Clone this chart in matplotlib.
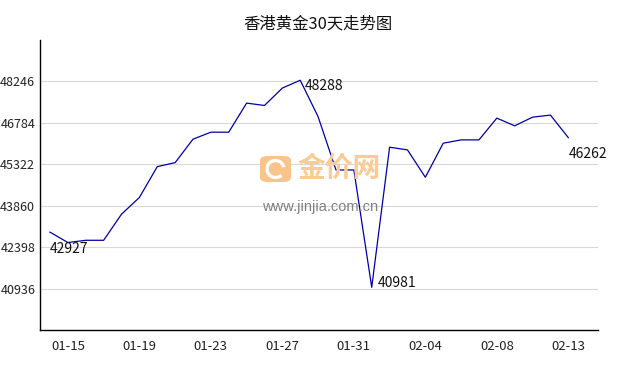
import matplotlib
matplotlib.use("Agg")
import matplotlib.pyplot as plt
from matplotlib.patches import FancyBboxPatch, Arc

plt.rcParams['font.family'] = ['Noto Sans CJK SC', 'DejaVu Sans']

title = "香港黄金30天走势图"

dates = ["01-14", "01-15", "01-16", "01-17", "01-18", "01-19", "01-20", "01-21",
         "01-22", "01-23", "01-24", "01-25", "01-26", "01-27", "01-28", "01-29",
         "01-30", "01-31", "02-01", "02-02", "02-03", "02-04", "02-05", "02-06",
         "02-07", "02-08", "02-09", "02-10", "02-12", "02-13"]
prices = [42927, 42560, 42640, 42640, 43560, 44150, 45239, 45380, 46208, 46455,
          46455, 47481, 47397, 48012, 48288, 47000, 45122, 45122, 40981, 45925,
          45830, 44864, 46066, 46183, 46183, 46951, 46679, 46986, 47057, 46262]

yticks = [40936, 42398, 43860, 45322, 46784, 48246]
ystep = 1462

fig = plt.figure(figsize=(6.38, 3.70), dpi=100)
ax = fig.add_axes([40 / 638, 1 - 330 / 370, 558 / 638, 290 / 370])

x = list(range(len(prices)))
ax.plot(x, prices, color="#0000a8", lw=0.9)

ax.set_xlim(-0.56, len(prices) + 0.66)
ax.set_ylim(yticks[0] - ystep, yticks[-1] + ystep)

ax.set_yticks(yticks)
ax.set_yticklabels([str(v) for v in yticks])
xt = list(range(1, len(dates), 4))
ax.set_xticks(xt)
ax.set_xticklabels([dates[i] for i in xt])
ax.tick_params(length=0, colors="#222222")
ax.tick_params(axis="x", pad=7, labelsize=9.5)
ax.tick_params(axis="y", pad=3.5, labelsize=9)
ax.grid(axis="y", color="#d8d8d8", lw=0.8)
ax.set_axisbelow(True)
for s in ["top", "right"]:
    ax.spines[s].set_visible(False)
for s in ["left", "bottom"]:
    ax.spines[s].set_color("black")
    ax.spines[s].set_linewidth(1.0)

# value labels: first, max, min, last
imax = prices.index(max(prices))
imin = prices.index(min(prices))
last = len(prices) - 1
lab = dict(fontsize=10, color="#111111")
ax.annotate(str(prices[0]), (0, prices[0]), xytext=(0, -7), textcoords="offset points",
            ha="left", va="top", **lab)
ax.annotate(str(prices[imax]), (imax, prices[imax]), xytext=(3, -4), textcoords="offset points",
            ha="left", va="center", **lab)
ax.annotate(str(prices[imin]), (imin, prices[imin]), xytext=(4, 3), textcoords="offset points",
            ha="left", va="center", **lab)
ax.annotate(str(prices[last]), (last, prices[last]), xytext=(0, -7), textcoords="offset points",
            ha="left", va="top", **lab)

fig.text(318 / 638, 1 - 24 / 370, title, ha="center", va="center", fontsize=11.8, color="#111111")

# watermark
icon = FancyBboxPatch((260 / 638, 1 - 182 / 370), 31 / 638, 26 / 370,
                      boxstyle="round,pad=0,rounding_size=0.012",
                      transform=fig.transFigure, facecolor="#f9c48a", edgecolor="none", zorder=0)
fig.patches.append(icon)
ring = Arc((275.5 / 638, 1 - 169 / 370), 17 / 638, 17 / 370, theta1=20, theta2=300,
           transform=fig.transFigure, color="white", lw=2.4, zorder=1)
fig.patches.append(ring)
fig.text(339 / 638, 1 - 169 / 370, "金价网", ha="center", va="center", fontsize=20,
         fontweight="bold", color="#fbcb96", zorder=0)
fig.text(320 / 638, 1 - 207 / 370, "www.jinjia.com.cn", ha="center", va="center",
         fontsize=10.5, color="#808080", family=["Liberation Sans", "DejaVu Sans"], zorder=0)

fig.savefig("out.png", dpi=100)
